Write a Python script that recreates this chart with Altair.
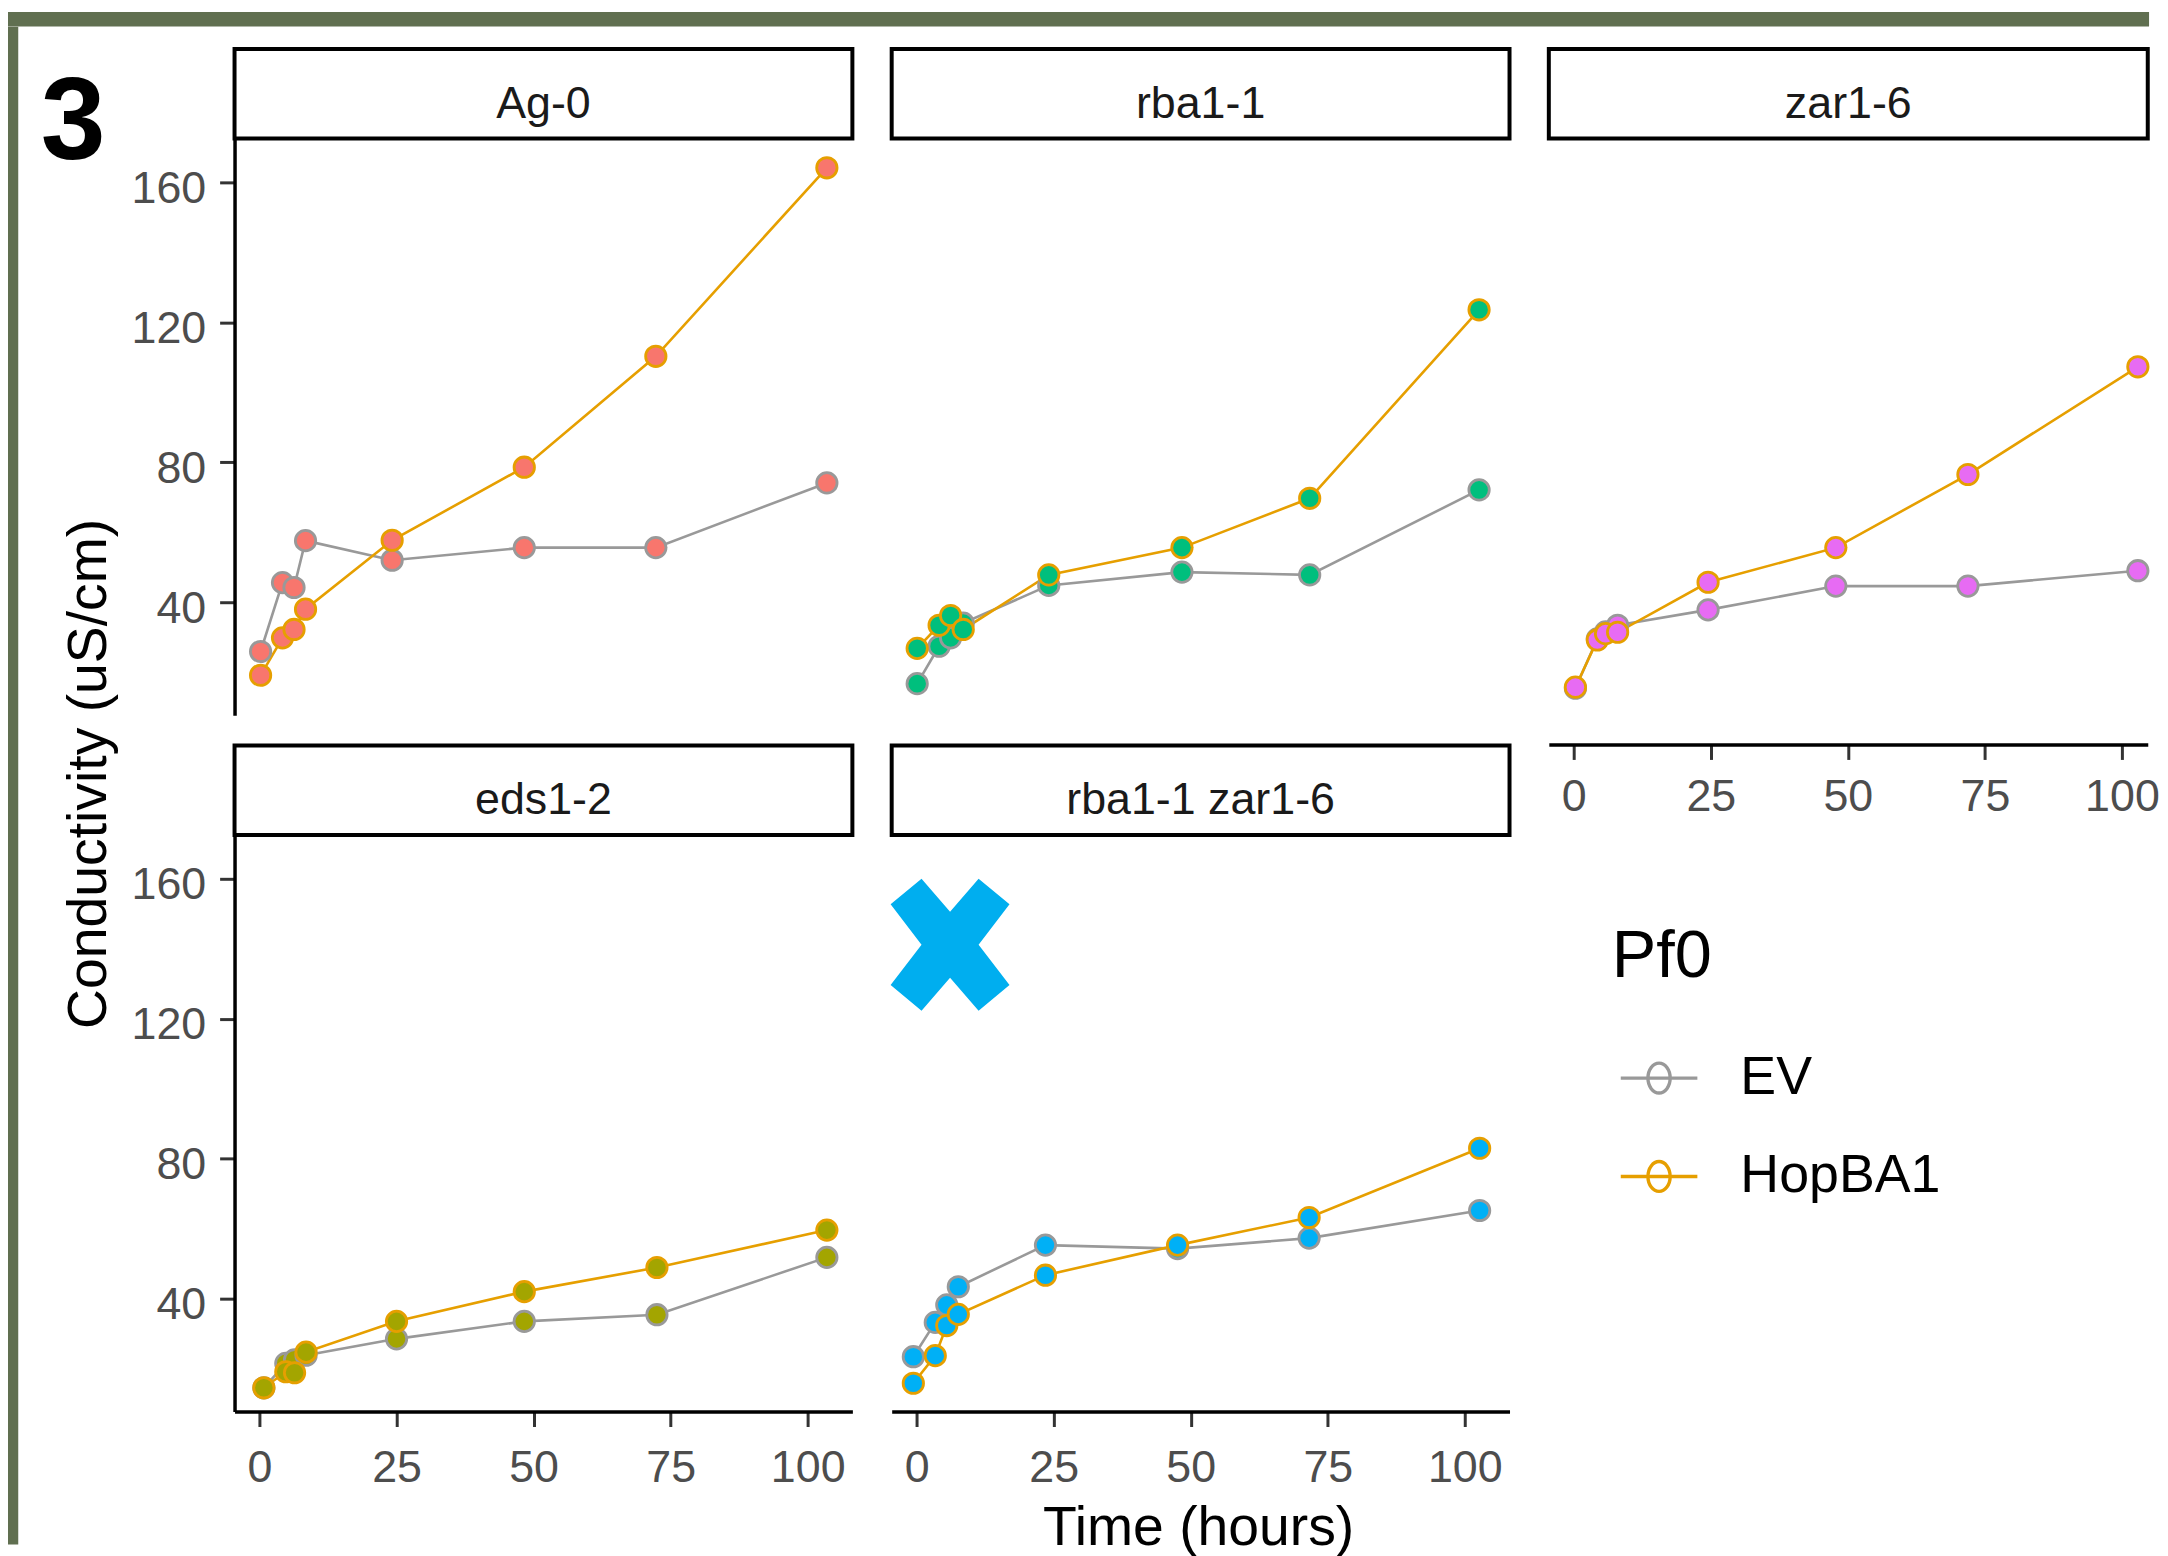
import altair as alt
import pandas as pd

FONT = "Liberation Sans"
GREEN = "#606F50"

# ---------------- data ----------------
GENOTYPES = ["Ag-0", "rba1-1", "zar1-6", "eds1-2", "rba1-1 zar1-6"]
GENO_FILL = ["#F8766D", "#00BF7D", "#E76BF3", "#A3A500", "#00B0F6"]
PF0_LEVELS = ["EV", "HopBA1"]
PF0_COLORS = ["#999999", "#E69F00"]

TIME_AG0 = [0.2, 4.2, 6.3, 8.4, 24.2, 48.3, 72.3, 103.5]
EV_AG0 = [25.9, 45.6, 44.2, 57.6, 52.0, 55.6, 55.6, 74.1]
HOP_AG0 = [19.1, 29.8, 32.2, 38.0, 57.7, 78.6, 110.3, 164.2]

TIME_RBA1 = [0.1, 4.1, 6.2, 8.5, 24.1, 48.4, 71.7, 102.6]
EV_RBA1 = [16.7, 27.4, 29.8, 34.0, 44.8, 48.6, 47.8, 72.1]
HOP_RBA1 = [26.8, 33.4, 36.2, 32.2, 47.8, 55.6, 69.7, 123.6]

TIME_ZAR1 = [0.3, 4.3, 5.8, 8.0, 24.5, 47.8, 71.9, 102.9]
EV_ZAR1 = [15.4, 29.5, 31.5, 33.4, 37.8, 44.6, 44.6, 49.0]
HOP_ZAR1 = [15.7, 29.2, 31.0, 31.4, 45.7, 55.6, 76.5, 107.3]

TIME_EDS1 = [0.8, 4.8, 6.4, 8.5, 25.0, 48.3, 72.5, 103.5]
EV_EDS1 = [14.5, 21.5, 22.5, 23.8, 28.5, 33.5, 35.4, 51.8]
HOP_EDS1 = [14.5, 19.1, 18.8, 24.7, 33.5, 42.0, 48.9, 59.6]

TIME_RBAZAR = [-0.6, 3.4, 5.5, 7.6, 23.5, 47.6, 71.6, 102.7]
EV_RBAZAR = [23.4, 33.2, 38.2, 43.4, 55.3, 54.3, 57.3, 65.2]
HOP_RBAZAR = [15.8, 23.7, 32.3, 35.5, 46.7, 55.3, 63.2, 83.0]

TIMES = [TIME_AG0, TIME_RBA1, TIME_ZAR1, TIME_EDS1, TIME_RBAZAR]
EVS = [EV_AG0, EV_RBA1, EV_ZAR1, EV_EDS1, EV_RBAZAR]
HOPS = [HOP_AG0, HOP_RBA1, HOP_ZAR1, HOP_EDS1, HOP_RBAZAR]

X_MARK_TIME = [6.1]
X_MARK_VALUE = [141.2]

X_TICKS = [0, 25, 50, 75, 100]
Y_TICKS = [40, 80, 120, 160]

# ---------------- layout / style ----------------
COL_W = [621, 621, 602]
PLOT_H = 579.5
STRIP_H = 90
ROW_GAP = 29.5
PX_PER_HOUR = 5.51
X_MIN = -4.55
Y_DOMAIN = [7.7, 172.55]

KEY_PATH = ("M-1,0L1,0M-0.29,0A0.29,0.39,0,1,1,0.29,0"
            "A0.29,0.39,0,1,1,-0.29,0Z")
X_PATH = ("M-0.48,-1.11L0,-0.555L0.48,-1.11L1,-0.68L0.48,0L1,0.68L0.48,1.11"
          "L0,0.555L-0.48,1.11L-1,0.68L-0.48,0L-1,-0.68Z")

LEGEND = alt.Legend(
    title="Pf0", orient="none", legendX=1612, legendY=916.6, padding=0,
    titleFont=FONT, titleFontSize=67, titleColor="black", titleFontWeight="normal",
    titlePadding=47.5, titleAnchor="start", titleLimit=0,
    labelFont=FONT, labelFontSize=54, labelColor="black", labelOffset=41.2,
    labelLimit=0,
    symbolType=KEY_PATH, symbolSize=5929, symbolStrokeWidth=3.4, symbolOffset=7,
    symbolFillColor="transparent", rowPadding=30.9,
)

STROKE = alt.Stroke("Pf0:N", scale=alt.Scale(domain=PF0_LEVELS, range=PF0_COLORS),
                    legend=LEGEND)
FILL = alt.Fill("Genotype:N", scale=alt.Scale(domain=GENOTYPES, range=GENO_FILL),
                legend=None)

BASE_AXIS = dict(grid=False, domainColor="black", domainWidth=3.5,
                 tickColor="#333333", tickWidth=3, tickSize=15,
                 labelFont=FONT, labelFontSize=45, labelColor="#4D4D4D",
                 labelOverlap=False, labelFlush=False)


def x_axis(offset=0, title="", pad=55.7):
    kw = dict(BASE_AXIS, values=X_TICKS, labelPadding=pad,
              labelBaseline="alphabetic", labelAngle=0, offset=offset)
    if title:
        kw.update(title=title, titleFont=FONT, titleFontSize=55.6,
                  titleColor="black", titleFontWeight="normal", titleAngle=0,
                  titleAlign="center", titleBaseline="alphabetic",
                  titleX=308, titleY=133.2)
    else:
        kw["title"] = None
    return alt.Axis(**kw)


def y_axis(title=""):
    kw = dict(BASE_AXIS, values=Y_TICKS, labelPadding=14,
              labelBaseline="alphabetic", labelOffset=20, labelAlign="right")
    if title:
        kw.update(title=title, titleFont=FONT, titleFontSize=55.6,
                  titleColor="black", titleFontWeight="normal", titleAngle=270,
                  titleAlign="center", titleBaseline="alphabetic",
                  titleX=-129.2, titleY=638)
    else:
        kw["title"] = None
    return alt.Axis(**kw)


def blank(w, h, fill="transparent"):
    return alt.Chart(alt.Data(values=[])).mark_point().encode(
        x=alt.value(0), y=alt.value(0)
    ).properties(width=w, height=h,
                 view=alt.ViewBackground(fill=fill, strokeWidth=0))


def strip(name, width):
    return alt.Chart(pd.DataFrame({"label": [name]})).mark_text(
        font=FONT, fontSize=45, color="#1A1A1A", baseline="alphabetic", dy=24
    ).encode(text="label:N").properties(
        width=width, height=STRIP_H,
        view=alt.ViewBackground(fill="white", stroke="black", strokeWidth=4))


def plot(idx, col, xax, yax, with_mark=False):
    name = GENOTYPES[idx]
    t, ev, hop = TIMES[idx], EVS[idx], HOPS[idx]
    n = len(t)
    df = pd.DataFrame({"Time": t + t, "Conductivity": ev + hop,
                       "Pf0": ["EV"] * n + ["HopBA1"] * n,
                       "Genotype": [name] * (2 * n)})
    width = COL_W[col]
    xscale = alt.Scale(domain=[X_MIN, X_MIN + width / PX_PER_HOUR], nice=False, zero=False)
    yscale = alt.Scale(domain=Y_DOMAIN, nice=False, zero=False)
    X = alt.X("Time:Q", scale=xscale, axis=xax)
    Y = alt.Y("Conductivity:Q", scale=yscale, axis=yax)
    base = alt.Chart(df)
    lines = base.mark_line(strokeWidth=2.6).encode(x=X, y=Y, stroke=STROKE)
    points = base.mark_point(filled=True, size=420, strokeWidth=2.8, opacity=1).encode(
        x=X, y=Y, stroke=STROKE, fill=FILL)
    layers = [lines, points]
    if with_mark:
        mdf = pd.DataFrame({"Time": X_MARK_TIME, "Conductivity": X_MARK_VALUE})
        layers.append(alt.Chart(mdf).mark_point(
            shape=X_PATH, filled=True, fill="#00AEEF", size=14280,
            strokeWidth=0, opacity=1).encode(x=X, y=Y))
    return alt.layer(*layers).properties(width=width, height=PLOT_H)


cells = [
    strip(GENOTYPES[0], COL_W[0]), strip(GENOTYPES[1], COL_W[1]), strip(GENOTYPES[2], COL_W[2]),
    plot(0, 0, None, y_axis("Conductivity (uS/cm)")),
    plot(1, 1, None, None),
    plot(2, 2, x_axis(offset=ROW_GAP, pad=51), None),
    blank(COL_W[0], ROW_GAP), blank(COL_W[1], ROW_GAP), blank(COL_W[2], ROW_GAP),
    strip(GENOTYPES[3], COL_W[0]), strip(GENOTYPES[4], COL_W[1]), blank(COL_W[2], STRIP_H),
    plot(3, 0, x_axis(), y_axis()),
    plot(4, 1, x_axis(title="Time (hours)"), None, with_mark=True),
    blank(COL_W[2], PLOT_H),
]

grid = alt.concat(*cells, columns=3, spacing={"row": 0, "column": 39.5},
                  bounds="flush", align="each")

label3 = blank(1, 1).properties(
    title=alt.TitleParams("3", anchor="start", frame="group", orient="bottom",
                          baseline="top", offset=39.6, dx=-194.7,
                          font=FONT, fontSize=117, fontWeight="bold", color="black"))

main = alt.vconcat(label3, grid, spacing=21.3, bounds="flush")
body = alt.hconcat(blank(10.3, 1525.3, GREEN), main, spacing=216.7, bounds="flush")
chart = alt.vconcat(blank(2152, 14.7, GREEN), body, spacing=0, bounds="flush").properties(
    padding=0, background="white"
).configure(font=FONT).configure_view(strokeWidth=0)

chart.save("out.html", embed_options={"renderer": "svg", "actions": False})
